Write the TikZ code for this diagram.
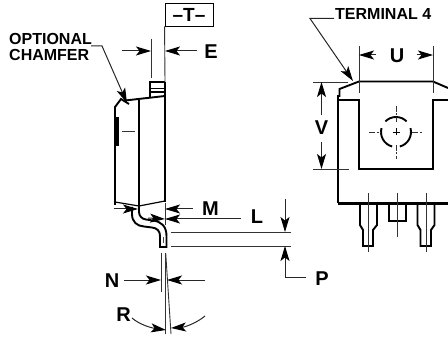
\documentclass[tikz,border=0pt]{standalone}
\usepackage{fontspec}
\setmainfont{Liberation Sans}
\usetikzlibrary{arrows.meta}
\tikzset{
 x=1pt,y=-1pt,
 thick line/.style={line width=1.9pt,black,line join=miter},
 med line/.style={line width=1.2pt,black},
 arc line/.style={line width=1.9pt,black},
 thin line/.style={line width=0.9pt,black!80},
 dim/.style={line width=1pt,black!85,-{Stealth[length=15pt,width=9pt,inset=3.5pt,black]}},
 lbl/.style={font=\bfseries\fontsize{20}{20}\selectfont,inner sep=0pt,text=black},
 sm/.style={font=\bfseries\fontsize{16}{16}\selectfont,inner sep=0pt,text=black,align=left},
 dashc/.style={line width=0.8pt,black!80,dash pattern=on 6pt off 1.5pt on 2pt off 1.5pt},
}
\begin{document}
\begin{tikzpicture}
\useasboundingbox (0,0) rectangle (448,337);
% T box
\node[draw=black,line width=0.9pt,minimum width=48pt,minimum height=23pt,inner sep=0pt,font=\bfseries\fontsize{19}{19}\selectfont] (tbox) at (189,14.5) {\textendash T\textendash};
\node[lbl] (e) at (211,52) {E};
\node[sm,anchor=west] (chamfer) at (9,47) {OPTIONAL\\CHAMFER};
\node[sm,anchor=west] (term) at (335,13.5) {TERMINAL 4};
\node[lbl] (u) at (397,55.5) {U};
\node[lbl] (v) at (321.5,128) {V};
\node[lbl] (m) at (210.5,208.5) {M};
\node[lbl] (l) at (257,216.5) {L};
\node[lbl] (n) at (112,281) {N};
\node[lbl] (p) at (322,279) {P};
\node[lbl] (r) at (123.5,315) {R};
% side view body
\draw[thick line] (115,205) -- (115,107) -- (121,99) -- (129,104);
\draw[thick line] (125,100.5) -- (165,96);
\draw[thick line] (139,100) -- (139,207);
\draw[thick line] (165,82) -- (165,202);
\draw[thick line] (150,97.5) -- (150,82) -- (165,82);
\draw[med line] (150,88.5) -- (165,88.5) (150,92) -- (165,92);
\draw[line width=2.8pt] (117.5,117) -- (117.5,146);
\draw[thin line] (122,131) -- (135,131);
\draw[med line] (115,202) -- (139,206) -- (165,201);
% lead
\draw[thick line] (132,207) -- (132,214) .. controls (132,222) and (137,226) .. (144,226.5) -- (152,227.5) .. controls (157,228) and (160,231) .. (160,236) -- (160,247) -- (166.5,247) -- (166.5,236) .. controls (166.5,226) and (161,221.5) .. (153,220.5) -- (146,219.5) .. controls (142,219) and (139,216) .. (139,212) -- (139,206);
\draw[line width=0.5pt,black!70] (163,237) -- (163,243);
% E dimension
\coordinate (e1) at (151,39); \coordinate (e2) at (151,78);
\draw[thin line] (e1) -- (e2);
\draw[thin line] (tbox.south west) -- (165,82);
\coordinate (ea) at (122,51); \coordinate (eb) at (151,51);
\coordinate (ec) at (197,51); \coordinate (ed) at (165,51);
\draw[dim] (ea) -- (eb);
\draw[dim] (ec) -- (ed);
% chamfer leader
\coordinate (cha) at (91,46); \coordinate (chb) at (102,46); \coordinate (chc) at (127,103);
\draw[dim] (cha) -- (chb) -- (chc);
% M
\coordinate (ma) at (114,209); \coordinate (mb) at (138,209);
\coordinate (mc) at (193,209); \coordinate (md) at (165,209);
\draw[dim] (ma) -- (mb);
\draw[dim] (mc) -- (md);
\coordinate (m2a) at (148,218); \coordinate (m2b) at (165,219);
\coordinate (m2c) at (241,219);
\draw[dim] (m2a) -- (m2b);
\draw[dim] (m2c) -- (m2b);
\draw[thin line] (165,203) -- (165,225);
% L / P lines
\draw[thin line] (171,232) -- (291,232);
\draw[thin line] (171,246) -- (291,246);
\coordinate (la) at (285,199); \coordinate (lb) at (285,232);
\coordinate (pa) at (306,277); \coordinate (pb) at (285,277); \coordinate (pc) at (285,246);
\draw[dim] (la) -- (lb);
\draw[dim] (pa) -- (pb) -- (pc);
% N
\draw[thin line] (161.5,253) -- (161.5,292);
\draw[thin line] (165.7,253) -- (165.7,334);
\draw[thin line] (165.7,253) -- (171,334);
\coordinate (na) at (124,280); \coordinate (nb) at (161,280);
\coordinate (nc) at (205,280); \coordinate (nd) at (167,280);
\draw[dim] (na) -- (nb);
\draw[dim] (nc) -- (nd);
% R
\coordinate (ra) at (132,318); \coordinate (rb) at (166,330);
\coordinate (rc) at (205,316); \coordinate (rd) at (171,328);
\draw[dim] (ra) .. controls (140,325) and (152,328) .. (rb);
\draw[dim] (rc) .. controls (198,322) and (186,327) .. (rd);
% front view
\draw[thick line] (338,203) -- (338,96) -- (339.5,96) -- (339.5,89) -- (359,81.5) -- (433,81.5) -- (448,88);
\draw[thick line] (338,100) -- (359,100) -- (359,169) -- (433,169) -- (433,100) -- (448,100);
\draw[line width=2.4pt] (338,203.5) -- (448,203.5);
% leader
\coordinate (ta) at (334,18.5); \coordinate (tb) at (310,18.5); \coordinate (tc) at (353,81);
\draw[dim] (ta) -- (tb) -- (tc);
% U
\draw[thin line] (359,46) -- (359,93);
\draw[thin line] (433,46) -- (433,93);
\coordinate (ua) at (376,55); \coordinate (ub) at (359,55);
\coordinate (uc) at (417,55); \coordinate (ud) at (433,55);
\draw[dim] (ua) -- (ub);
\draw[dim] (uc) -- (ud);
% V
\draw[thin line] (313,82) -- (348,82);
\draw[thin line] (313,169) -- (349,169);
\coordinate (va) at (321.5,115); \coordinate (vb) at (321.5,82);
\coordinate (vc) at (321.5,142); \coordinate (vd) at (321.5,169);
\draw[dim] (va) -- (vb);
\draw[dim] (vc) -- (vd);
% hole: y axis is flipped, so angles run clockwise on the page
\coordinate (h) at (396,132);
\draw[arc line] (h) ++(-135:15) arc (-135:-45:15);
\draw[arc line] (h) ++(-165:15) arc (-165:-255:15);
\draw[arc line] (h) ++(-15:15) arc (-15:75:15);
\draw[dashc] (396,106) -- (396,122);
\draw[dashc] (396,145) -- (396,159);
\draw[dashc] (369,132) -- (381,132);
\draw[dashc] (412,132) -- (423,132);
\draw[line width=0.7pt] (392.5,132) -- (399.5,132) (396,128.5) -- (396,135.5);
% leads
\draw[thick line] (360,204) -- (360,225) -- (363,230) -- (363,246) -- (373,246) -- (373,230) -- (377,225) -- (377,204);
\draw[thick line] (389,204) -- (389,221) -- (406,221) -- (406,204);
\draw[thick line] (417.5,204) -- (417.5,225) -- (420.5,230) -- (420.5,246) -- (431,246) -- (431,230) -- (434.5,225) -- (434.5,204);
\draw[thin line] (368,193) -- (368,252);
\draw[thin line] (397.5,193) -- (397.5,237);
\draw[thin line] (426,193) -- (426,252);
\end{tikzpicture}
\end{document}
